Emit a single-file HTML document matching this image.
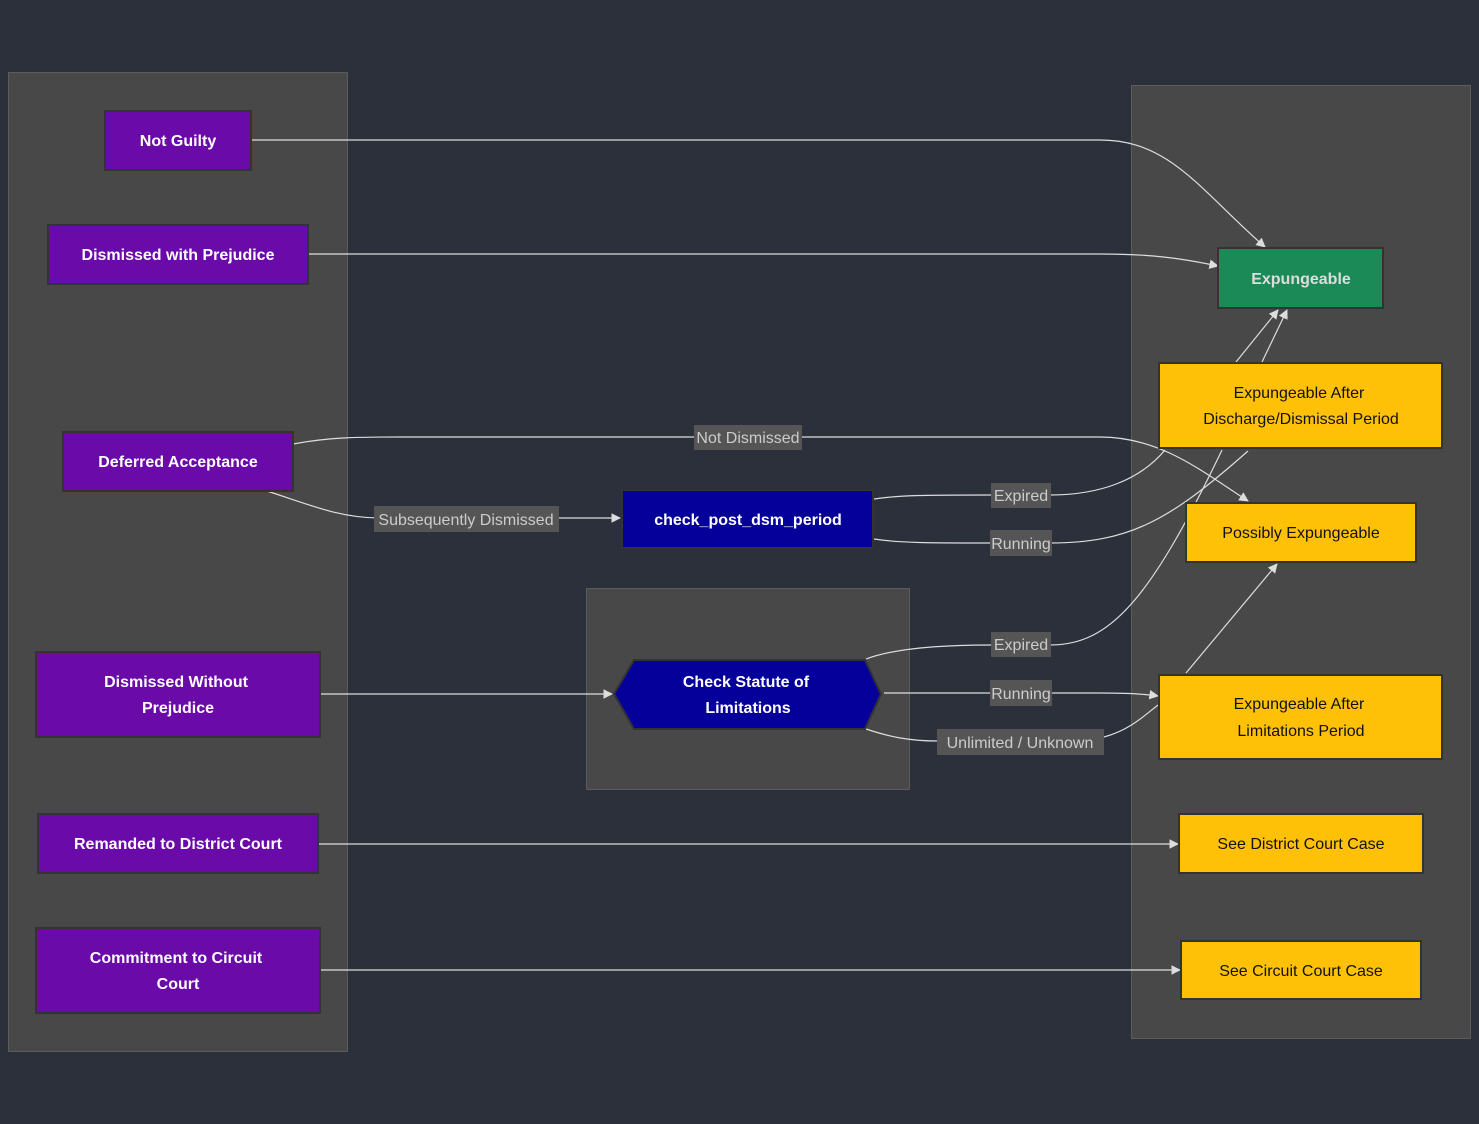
<!DOCTYPE html>
<html><head><style>
body{margin:0;background:#2b303b;}
svg{display:block;font-family:"Liberation Sans","DejaVu Sans",sans-serif;}
.n{font-size:16px;font-weight:bold;fill:#fff;text-anchor:middle;}
.y{font-size:16px;fill:#111;text-anchor:middle;}
.l{font-size:16px;fill:#ccc;text-anchor:middle;}
.e{fill:none;stroke:#ddd;stroke-width:1.2;}
</style></head><body>
<svg width="1479" height="1124" viewBox="0 0 1479 1124">
<defs><marker id="a" viewBox="0 0 10 10" refX="9" refY="5" markerWidth="8" markerHeight="8" orient="auto"><path d="M0,0L10,5L0,10z" fill="#ddd"/></marker></defs>
<rect x="0" y="0" width="1479" height="1124" fill="#2b303b"/>
<rect x="8.5" y="72.5" width="339" height="979" fill="#484848" stroke="#5c5c5c"/>
<rect x="1131.5" y="85.5" width="339" height="953" fill="#484848" stroke="#5c5c5c"/>
<rect x="586.5" y="588.5" width="323" height="201" fill="#484848" stroke="#5c5c5c"/>

<!-- edges -->
<path class="e" marker-end="url(#a)" d="M251,140 L1100,140 C1170,140 1200,190 1265,247"/>
<path class="e" marker-end="url(#a)" d="M308,254 L1100,254 C1150,254 1180,258 1218,266"/>
<path class="e" marker-end="url(#a)" d="M293,444 C330,437 360,437 400,437 L1100,437 C1160,437 1200,470 1248,501"/>
<path class="e" marker-end="url(#a)" d="M267,491 C310,505 340,518 380,518 L620,518"/>
<path class="e" d="M874,499 C900,495 930,495 990,495 L1050,495 C1100,495 1140,480 1165,450"/>
<path class="e" marker-end="url(#a)" d="M1236,362 L1278,310"/>
<path class="e" d="M874,539 C900,543 930,543 990,543 L1050,543 C1130,543 1170,520 1248,451"/>
<path class="e" marker-end="url(#a)" d="M1262,362 L1287,310"/>
<path class="e" d="M866,659 C890,650 930,645 990,645 L1050,645 C1110,645 1150,600 1222,450"/>
<path class="e" marker-end="url(#a)" d="M884,693 L1100,693 C1130,693 1145,694 1158,696"/>
<path class="e" d="M866,729 C890,737 910,741 937,741 M1104,737 C1130,730 1145,715 1158,705"/>
<path class="e" marker-end="url(#a)" d="M1186,673 L1277,564"/>
<path class="e" marker-end="url(#a)" d="M320,694 L612,694"/>
<path class="e" marker-end="url(#a)" d="M318,844 L1178,844"/>
<path class="e" marker-end="url(#a)" d="M320,970 L1180,970"/>

<!-- labels -->
<rect x="694" y="425" width="108" height="25" fill="#555"/><text class="l" x="748" y="443">Not Dismissed</text>
<rect x="374" y="506" width="185" height="26" fill="#555"/><text class="l" x="466" y="525">Subsequently Dismissed</text>
<rect x="991" y="483" width="60" height="25" fill="#555"/><text class="l" x="1021" y="501">Expired</text>
<rect x="990" y="530" width="62" height="26" fill="#555"/><text class="l" x="1021" y="549">Running</text>
<rect x="991" y="632" width="60" height="25" fill="#555"/><text class="l" x="1021" y="650">Expired</text>
<rect x="990" y="680" width="62" height="26" fill="#555"/><text class="l" x="1021" y="699">Running</text>
<rect x="937" y="729" width="167" height="26" fill="#555"/><text class="l" x="1020" y="748">Unlimited / Unknown</text>

<!-- left nodes -->
<g stroke="#333" stroke-width="2" fill="#6a0aa8">
<rect x="105" y="111" width="146" height="59"/>
<rect x="48" y="225" width="260" height="59"/>
<rect x="63" y="432" width="230" height="59"/>
<rect x="36" y="652" width="284" height="85"/>
<rect x="38" y="814" width="280" height="59"/>
<rect x="36" y="928" width="284" height="85"/>
</g>
<text class="n" x="178" y="146">Not Guilty</text>
<text class="n" x="178" y="260">Dismissed with Prejudice</text>
<text class="n" x="178" y="467">Deferred Acceptance</text>
<text class="n" x="176" y="687">Dismissed Without</text><text class="n" x="178" y="713">Prejudice</text>
<text class="n" x="178" y="849">Remanded to District Court</text>
<text class="n" x="176" y="963">Commitment to Circuit</text><text class="n" x="178" y="989">Court</text>

<!-- middle -->
<rect x="622" y="490" width="251" height="58" fill="#06009a" stroke="#333" stroke-width="2"/>
<text class="n" x="748" y="525">check_post_dsm_period</text>
<polygon points="634,660 865,660 881,694 865,729 634,729 614,694" fill="#06009a" stroke="#333" stroke-width="2"/>
<text class="n" x="746" y="687">Check Statute of</text><text class="n" x="748" y="713">Limitations</text>

<!-- right -->
<rect x="1218" y="248" width="165" height="60" fill="#1b8a57" stroke="#333" stroke-width="2"/>
<text x="1301" y="284" font-size="16" font-weight="bold" fill="#ddd" text-anchor="middle">Expungeable</text>
<g stroke="#333" stroke-width="2" fill="#ffc107">
<rect x="1159" y="363" width="283" height="85"/>
<rect x="1186" y="503" width="230" height="59"/>
<rect x="1159" y="675" width="283" height="84"/>
<rect x="1179" y="814" width="244" height="59"/>
<rect x="1181" y="941" width="240" height="58"/>
</g>
<text class="y" x="1299" y="398">Expungeable After</text><text class="y" x="1301" y="424">Discharge/Dismissal Period</text>
<text class="y" x="1301" y="538">Possibly Expungeable</text>
<text class="y" x="1299" y="709">Expungeable After</text><text class="y" x="1301" y="736">Limitations Period</text>
<text class="y" x="1301" y="849">See District Court Case</text>
<text class="y" x="1301" y="976">See Circuit Court Case</text>
</svg>
</body></html>
